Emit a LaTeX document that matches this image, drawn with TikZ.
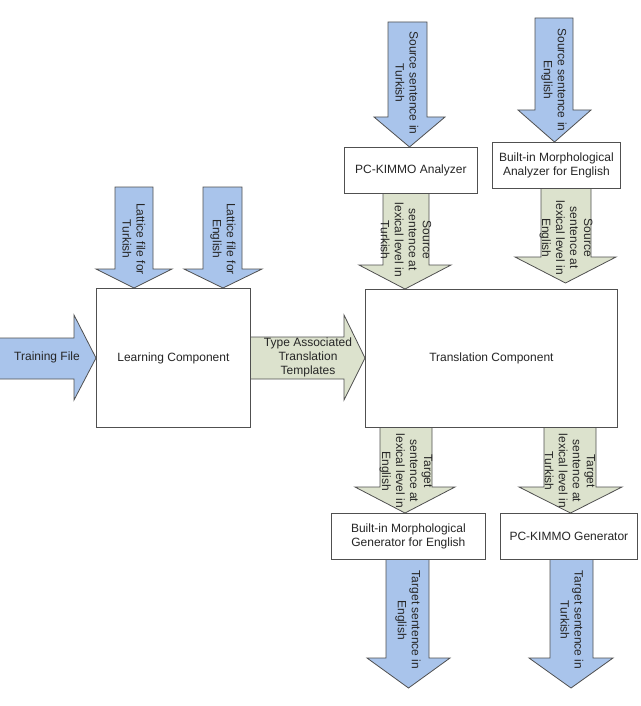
\documentclass[tikz,border=0pt]{standalone}
\usepackage{fontspec}
\setmainfont{Liberation Sans}
\usetikzlibrary{positioning}
\definecolor{arrowblue}{HTML}{A9C4EB}
\definecolor{arrowgreen}{HTML}{DCE2CD}
\definecolor{edgegrey}{HTML}{505050}
\tikzset{
  blockblue/.style={draw=edgegrey,fill=arrowblue,line width=0.8pt,line join=miter},
  blockgreen/.style={draw=edgegrey,fill=arrowgreen,line width=0.8pt,line join=miter},
  unit/.style={draw=edgegrey,fill=white,line width=0.8pt,anchor=north west,
    font=\fontsize{12}{14}\selectfont,text=black!85,align=center},
  lbl/.style={font=\fontsize{12}{14}\selectfont,text=black!85,align=center,inner sep=0pt},
  vlbl/.style={lbl,rotate=-90}
}

\begin{document}
\begin{tikzpicture}[x=1pt,y=-1pt]
\useasboundingbox (0,0) rectangle (640,706);
%\draw[help lines] (0,0) grid[step=50] (640,706);
% horizontal block arrows
\fill[arrowblue] (0,338) -- (74,338) -- (74,315) -- (96,358) -- (74,400) -- (74,379) -- (0,379) -- cycle;
\draw[edgegrey,line width=0.8pt] (0,338) -- (74,338) -- (74,315) -- (96,358) -- (74,400) -- (74,379) -- (0,379);
\draw[blockgreen] (250,337) -- (344,337) -- (344,315) -- (365,358) -- (344,400) -- (344,379) -- (250,379) -- cycle;
% blue arrows pointing down
\foreach \l/\r/\t/\h/\hl/\hr/\b in {115/153/187/269/96/172/288,203/242/187/269/184/262/288,
  388/427/22/117/374/445/147,535/573/18/110/518/591/142,
  386/429/559/658/367/450/688,550/593/559/658/529/613/688}
\draw[blockblue] (\l,\t) -- (\l,\h) -- (\hl,\h) -- ({(\hl+\hr)/2},\b) -- (\hr,\h) -- (\r,\h) -- (\r,\t) -- cycle;
% green arrows pointing down
\foreach \l/\r/\t/\h/\hl/\hr/\b in {383/429/193/265/359/451/289,541/591/188/257/515/616/283,
  380/432/427/487/355/455/513,544/596/427/487/519/622/513}
\draw[blockgreen] (\l,\t) -- (\l,\h) -- (\hl,\h) -- ({(\hl+\hr)/2},\b) -- (\hr,\h) -- (\r,\h) -- (\r,\t) -- cycle;
%
% components
\node[unit,minimum width=154pt,minimum height=139pt] (learn) at (96,288) {Learning Component};
\node[unit,minimum width=252pt,minimum height=138pt] (trans) at (365,289) {Translation Component};
\node[unit,minimum width=133pt,minimum height=46pt] (pcana) at (344,147) {PC-KIMMO Analyzer};
\node[unit,minimum width=128pt,minimum height=46pt] (bana) at (492,142) {Built-in Morphological\\Analyzer for English};
\node[unit,minimum width=154pt,minimum height=46pt] (bgen) at (331,513) {Built-in Morphological\\Generator for English};
\node[unit,minimum width=137pt,minimum height=46pt] (pcgen) at (500,513) {PC-KIMMO Generator};
%
% arrow texts
\node[lbl] (train) at (47,357) {Training File};
\node[lbl] (tat) at (308,357) {Type Associated\\Translation\\Templates};
\node[vlbl] (lattTR) at (134,239) {Lattice file for\\Turkish};
\node[vlbl] (lattEN) at (223,239) {Lattice file for\\English};
\node[vlbl] (srcTR) at (407,83) {Source sentence in\\Turkish};
\node[vlbl] (srcEN) at (554,80) {Source sentence in\\English};
\node[vlbl] (lexTR) at (406,240) {Source\\sentence at\\lexical level in\\Turkish};
\node[vlbl] (lexEN) at (566,238) {Source\\sentence at\\lexical level in\\English};
\node[vlbl] (tlexEN) at (406,471) {Target\\sentence at\\lexical level in\\English};
\node[vlbl] (tlexTR) at (570,471) {Target\\sentence at\\lexical level in\\Turkish};
\node[vlbl] (tgtEN) at (408,620) {Target sentence in\\English};
\node[vlbl] (tgtTR) at (572,620) {Target sentence in\\Turkish};
\end{tikzpicture}
\end{document}
